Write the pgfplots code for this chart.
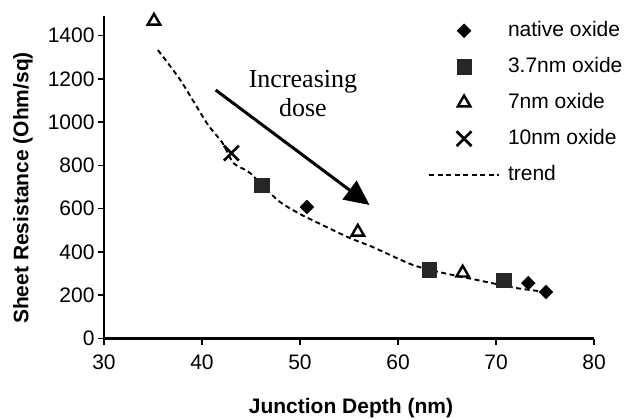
\documentclass[border=0pt]{standalone}
\usepackage{pgfplots}
\pgfplotsset{compat=1.18}
\usepackage{fontspec}
\setmainfont{Liberation Sans}
\newfontfamily\serif{Liberation Serif}
\usetikzlibrary{arrows.meta}

\pgfplotsset{
  markimg/.style={legend image code/.code={\draw[##1] plot coordinates {(35bp,0bp)};}},
  lineimg/.style={legend image code/.code={\draw[##1] (0bp,0bp) -- (70bp,0bp);}},
}

% scatter series
\pgfplotstableread{
x y
50.7 608
73.3 256
75.1 215
}\native
\pgfplotstableread{
x y
46.1 709
63.2 317
70.8 270
}\thinox
\pgfplotstableread{
x y
35.1 1467
55.9 492
66.6 303
}\midox
\pgfplotstableread{
x y
43.0 857
}\thickox
\pgfplotstableread{
x y
35.5 1333
37.8 1194
40.5 995
42.1 903
43.2 811
44.9 765
47.7 640
49.8 580
52.3 524
55.1 464
57.4 423
61.5 340
64.6 303
68.1 270
72.1 233
75.1 215
}\trend

\begin{document}
\begin{tikzpicture}
\useasboundingbox (0,0) rectangle (636bp,419bp);
\begin{axis}[
    at={(104bp,80.5bp)}, anchor=south west,
    scale only axis, width=490bp, height=322.4bp,
    xmin=30, xmax=80, ymin=0, ymax=1490,
    axis lines=left, axis line style={line width=2bp, -},
    xtick={30,40,...,80}, ytick={0,200,...,1400},
    tick align=outside, major tick length=6bp,
    tick style={line width=1.6bp, black},
    font=\fontsize{21bp}{25bp}\selectfont,
    xticklabel style={yshift=-7bp},
    /pgf/number format/assume math mode=true,
    /pgf/number format/1000 sep={},
    xlabel={\bfseries Junction Depth (nm)},
    ylabel={\bfseries Sheet Resistance (Ohm/sq)},
    xlabel style={at={(axis description cs:0.504,-0.2156)}, anchor=center},
    ylabel style={at={(axis description cs:-0.1653,0.467)}, anchor=center, rotate=0},
    clip=false,
    legend style={draw=none, fill=none, at={(axis description cs:0.655,0.994)},
        anchor=north west, row sep=15bp,
        nodes={inner sep=1bp, text height=15bp, text depth=4bp},
        /tikz/every odd column/.append style={column sep=7bp},
        font=\fontsize{21bp}{25bp}\selectfont},
    legend cell align=left,
]
\addplot[only marks, mark=square*, mark size=4.9bp, mark options={rotate=45, fill=black, draw=black}, markimg]
    table {\native};
\addlegendentry{native oxide}
\addplot[only marks, mark=square*, mark size=7.3bp, mark options={fill=black!85, draw=black!85}, markimg]
    table {\thinox};
\addlegendentry{3.7nm oxide}
\addplot[only marks, mark=triangle, mark size=7.2bp, mark options={line width=2.4bp, fill=white, draw=black}, markimg]
    table {\midox};
\addlegendentry{7nm oxide}
\addplot[only marks, mark=x, mark size=10.5bp, mark options={line width=2.7bp, draw=black}, markimg]
    table {\thickox};
\addlegendentry{10nm oxide}
\addplot[black, line width=1.9bp, dash pattern=on 5bp off 3.5bp, smooth, tension=0.4, no marks, lineimg]
    table {\trend};
\addlegendentry{trend}

\draw[line width=3bp, -{Triangle[length=25bp,width=23bp]}] (axis cs:41.4,1148) -- (axis cs:57.1,617);
\node[font=\serif\fontsize{26bp}{30bp}\selectfont, anchor=base] at (axis cs:50.3,1162) {Increasing};
\node[font=\serif\fontsize{26bp}{30bp}\selectfont, anchor=base] at (axis cs:50.3,1024) {dose};
\end{axis}
\end{tikzpicture}
\end{document}
